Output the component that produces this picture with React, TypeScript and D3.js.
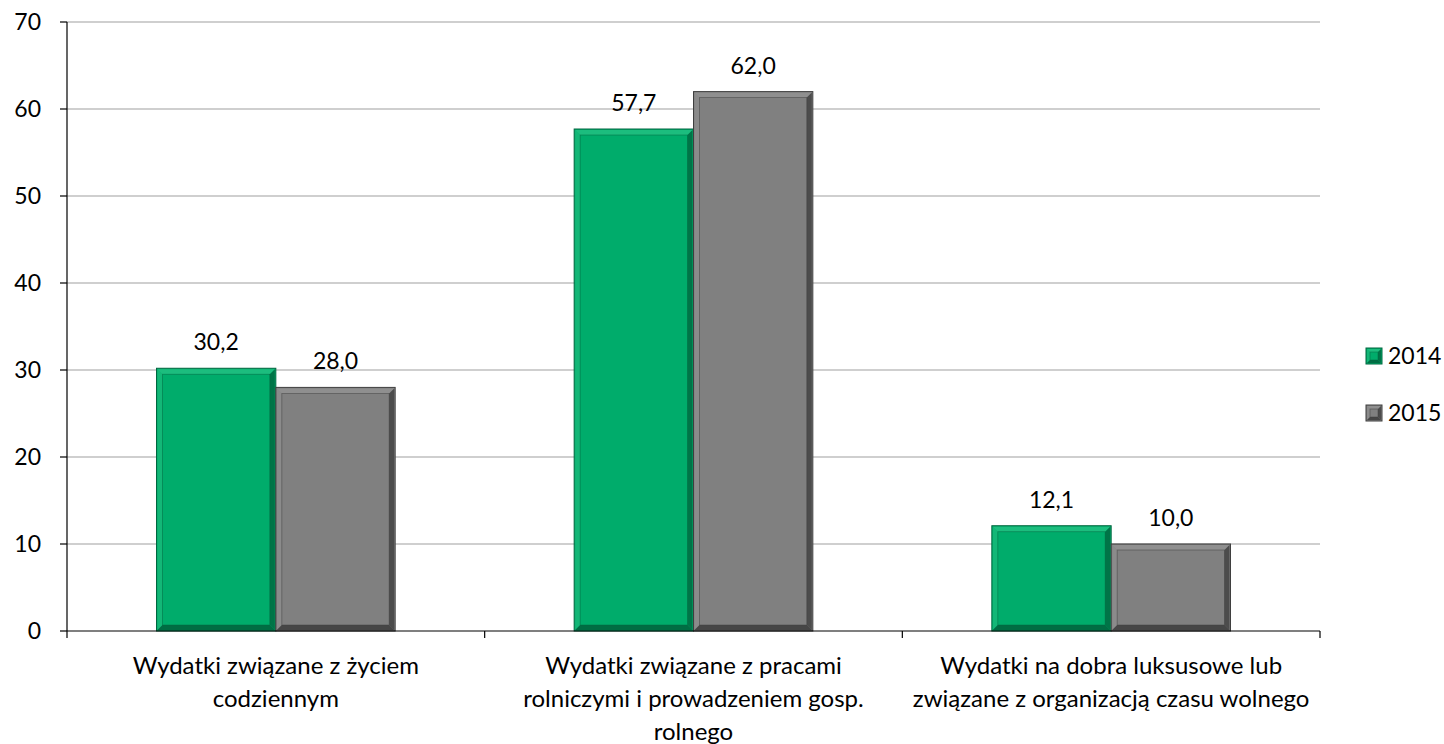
import React from "react";
import * as d3 from "d3";

const categories = [
  ["Wydatki związane z życiem", "codziennym"],
  ["Wydatki związane z pracami", "rolniczymi i prowadzeniem gosp.", "rolnego"],
  ["Wydatki na dobra luksusowe lub", "związane z organizacją czasu wolnego"],
];
const seriesNames = ["2014", "2015"];
const values2014 = [30.2, 57.7, 12.1];
const values2015 = [28.0, 62.0, 10.0];
const yTicks = [0, 10, 20, 30, 40, 50, 60, 70];
const colors = ["#00AC6B", "#808080"];
const darks = ["#00663F", "#3F3F3F"];
const lights = ["#2FC88A", "#9A9A9A"];

const W = 1444, H = 744;
const left = 67, right = 1320, top = 22, bottom = 631;
const FONT = "Lato, 'Open Sans', sans-serif";
const FS = 23;
const FS_CAT = 24;

export default function App() {
  const x = d3.scaleBand<number>().domain([0, 1, 2]).range([left, right]).paddingInner(0).paddingOuter(0);
  const y = d3.scaleLinear().domain([0, 70]).range([bottom, top]);
  const bw = x.bandwidth() / 3.5;
  const series = [values2014, values2015];
  const fmt = (v: number) => v.toFixed(1).replace(".", ",");
  const bev = 5;

  const Bar = ({ bx, by, w, h, s, b }: any) => (
    <g>
      <rect x={bx} y={by} width={w} height={h} fill={colors[s]} stroke={darks[s]} strokeWidth={1} />
      <polygon points={`${bx + 1},${by + 1} ${bx + w - 1},${by + 1} ${bx + w - 1 - b},${by + 1 + b} ${bx + 1 + b},${by + 1 + b}`} fill={lights[s]} opacity={0.6} />
      <polygon points={`${bx + 1},${by + 1} ${bx + 1 + b},${by + 1 + b} ${bx + 1 + b},${by + h - 1 - b} ${bx + 1},${by + h - 1}`} fill={lights[s]} opacity={0.4} />
      <polygon points={`${bx + w - 1},${by + 1} ${bx + w - 1},${by + h - 1} ${bx + w - 1 - b},${by + h - 1 - b} ${bx + w - 1 - b},${by + 1 + b}`} fill={darks[s]} opacity={0.8} />
      <polygon points={`${bx + 1},${by + h - 1} ${bx + w - 1},${by + h - 1} ${bx + w - 1 - b},${by + h - 1 - b} ${bx + 1 + b},${by + h - 1 - b}`} fill={darks[s]} opacity={0.9} />
      <rect x={bx + 1 + b} y={by + 1 + b} width={Math.max(0, w - 2 - 2 * b)} height={Math.max(0, h - 2 - 2 * b)} fill="none" stroke={darks[s]} strokeWidth={0.8} opacity={0.6} />
    </g>
  );

  return (
    <svg width={W} height={H} style={{ position: "absolute", left: 0, top: 0 }} fontFamily={FONT}>
      <rect width={W} height={H} fill="#fff" />
      {yTicks.filter((t) => t > 0).map((t) => (
        <line key={t} x1={left} x2={right} y1={y(t)} y2={y(t)} stroke="#BFBFBF" strokeWidth={1.5} />
      ))}
      {yTicks.map((t) => (
        <g key={"yt" + t}>
          <line x1={left - 7} x2={left} y1={y(t)} y2={y(t)} stroke="#000" strokeWidth={1.2} />
          <text x={41} y={y(t)} dy="0.35em" textAnchor="end" fontSize={FS} fill="#000">{t}</text>
        </g>
      ))}
      {[0, 1, 2].map((c) =>
        series.map((vals, s) => {
          const bx = (x(c) as number) + bw * 0.75 + s * bw;
          const by = y(vals[c]);
          const h = bottom - by;
          return (
            <g key={c + "-" + s}>
              <Bar bx={bx} by={by} w={bw} h={h} s={s} b={bev} />
              <text x={bx + bw / 2} y={by - 26} dy="0.35em" textAnchor="middle" fontSize={FS} fill="#000">{fmt(vals[c])}</text>
            </g>
          );
        })
      )}
      <line x1={left} x2={left} y1={top} y2={bottom} stroke="#000" strokeWidth={1.2} />
      <line x1={left} x2={right} y1={bottom} y2={bottom} stroke="#000" strokeWidth={1.2} />
      {[0, 1, 2, 3].map((i) => {
        const xx = i < 3 ? (x(i) as number) : right;
        return <line key={"xt" + i} x1={xx} x2={xx} y1={bottom} y2={bottom + 7} stroke="#000" strokeWidth={1.2} />;
      })}
      {categories.map((lines, c) => (
        <text key={"cat" + c} textAnchor="middle" fontSize={FS_CAT} fill="#000">
          {lines.map((ln, i) => (
            <tspan key={i} x={(x(c) as number) + x.bandwidth() / 2} y={666 + i * 33} dy="0.35em">{ln}</tspan>
          ))}
        </text>
      ))}
      {seriesNames.map((n, s) => {
        const ly = 356 + s * 57;
        return (
          <g key={n}>
            <Bar bx={1366} by={ly - 8} w={16} h={16} s={s} b={3} />
            <text x={1388} y={ly} dy="0.35em" fontSize={FS} fill="#000">{n}</text>
          </g>
        );
      })}
    </svg>
  );
}
